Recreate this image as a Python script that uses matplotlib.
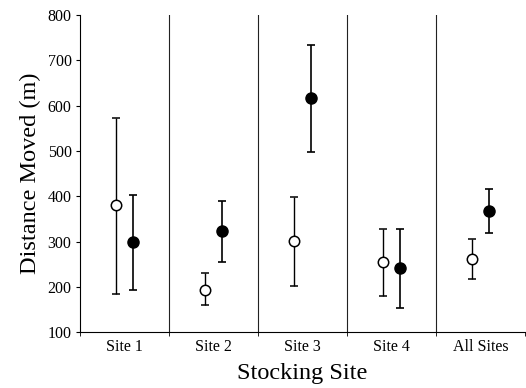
import numpy as np
import matplotlib
matplotlib.use("Agg")
import matplotlib.pyplot as plt

plt.rcParams["font.family"] = ["Liberation Serif", "DejaVu Serif"]

sites = ["Site 1", "Site 2", "Site 3", "Site 4", "All Sites"]

# open circles
open_mean = [380, 194, 301, 255, 262]
open_low = [185, 159, 202, 180, 218]
open_high = [573, 230, 399, 328, 305]

# filled circles
filled_mean = [298, 323, 616, 241, 367]
filled_low = [193, 255, 498, 154, 318]
filled_high = [403, 389, 734, 328, 416]

fig = plt.figure(figsize=(5.26, 3.88), dpi=100)
ax = fig.add_axes([0.152, 0.144, 0.846, 0.817])

x = np.arange(1, len(sites) + 1)
off = 0.1

om = np.array(open_mean)
fm = np.array(filled_mean)
ax.errorbar(x - off, om, yerr=[om - np.array(open_low), np.array(open_high) - om],
            fmt="o", mfc="white", mec="black", mew=1.1, ms=7.5, color="black",
            ecolor="black", elinewidth=1.0, capsize=3, capthick=1.2, zorder=3)
ax.errorbar(x + off, fm, yerr=[fm - np.array(filled_low), np.array(filled_high) - fm],
            fmt="o", mfc="black", mec="black", ms=8, color="black",
            ecolor="black", elinewidth=1.2, capsize=3, capthick=1.2, zorder=3)

# separators between sites
for b in x[:-1] + 0.5:
    ax.axvline(b, color="#222222", lw=0.8, zorder=1)

ax.set_xlim(0.5, 5.5)
ax.set_ylim(100, 800)
ax.set_yticks(range(100, 801, 100))
ax.set_xticks(x)
ax.set_xticklabels(sites)
ax.set_xticks(np.arange(0.5, 5.6, 1.0), minor=True)
ax.tick_params(axis="x", which="major", length=0, labelsize=11.5, pad=5)
ax.tick_params(axis="x", which="minor", length=3, direction="out")
ax.tick_params(axis="y", length=3, direction="out", labelsize=11.5, pad=3)

ax.spines["top"].set_visible(False)
ax.spines["right"].set_visible(False)

ax.set_xlabel("Stocking Site", fontsize=17.5, labelpad=6)
ax.set_ylabel("Distance Moved (m)", fontsize=17.5, labelpad=5)

fig.savefig("out.png", dpi=100)
